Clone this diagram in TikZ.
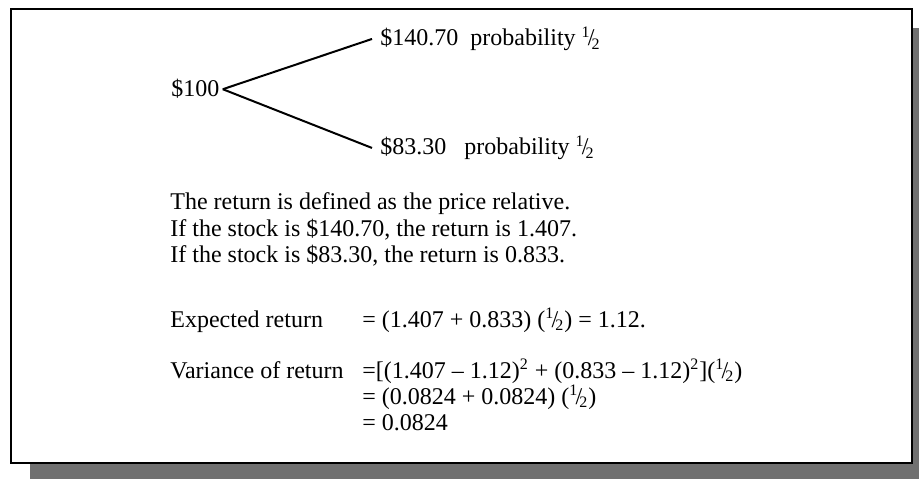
\documentclass[tikz,border=0pt]{standalone}
\usepackage{fontspec}
\setmainfont{Liberation Serif}
\usetikzlibrary{positioning}
\definecolor{ScanGray}{RGB}{112,112,112}
\newcommand{\half}{\textsuperscript{1}\kern-0.12em/\kern-0.12em\textsubscript{2}}

\begin{document}
\begin{tikzpicture}[x=0.5pt,y=-0.5pt,
    txt/.style={anchor=base west,inner sep=0pt,font=\fontsize{12}{13}\selectfont},
    leaf/.style={txt,inner xsep=4pt},
    branch/.style={line width=1pt}]
  \useasboundingbox (0,0) rectangle (919,480);
  % shadow and frame
  \fill[ScanGray] (30,464) rectangle (919,479);
  \fill[ScanGray] (913,28) rectangle (919,479);
  \draw[line width=1.1pt] (11,9) rectangle (912,463);
  % the two-state tree
  \node[txt,inner xsep=1.5pt] (root) at (168,97) {\$100};
  \node[leaf] (up) at (372,46) {\$140.70\ \ probability \half};
  \node[leaf] (down) at (372,155) {\$83.30\ \ \ probability \half};
  \draw[branch] (root.east) -- (up.west);
  \draw[branch] (root.east) -- (down.west);
  % explanation
  \node[txt] (def) at (170,210) {The return is defined as the price relative.};
  \node[txt] (hi) at (170,237) {If the stock is \$140.70, the return is 1.407.};
  \node[txt] (lo) at (170,263) {If the stock is \$83.30, the return is 0.833.};
  % expected value and variance
  \node[txt] (exlab) at (170,327) {Expected return};
  \node[txt] (exval) at (362,327) {= (1.407 + 0.833) (\half) = 1.12.};
  \node[txt] (varlab) at (170,378) {Variance of return};
  \node[txt] (var1) at (362,378) {=[(1.407 -- 1.12)\textsuperscript{2} + (0.833 -- 1.12)\textsuperscript{2}](\half)};
  \node[txt] (var2) at (362,404) {= (0.0824 + 0.0824) (\half)};
  \node[txt] (var3) at (362,430) {= 0.0824};
\end{tikzpicture}
\end{document}
